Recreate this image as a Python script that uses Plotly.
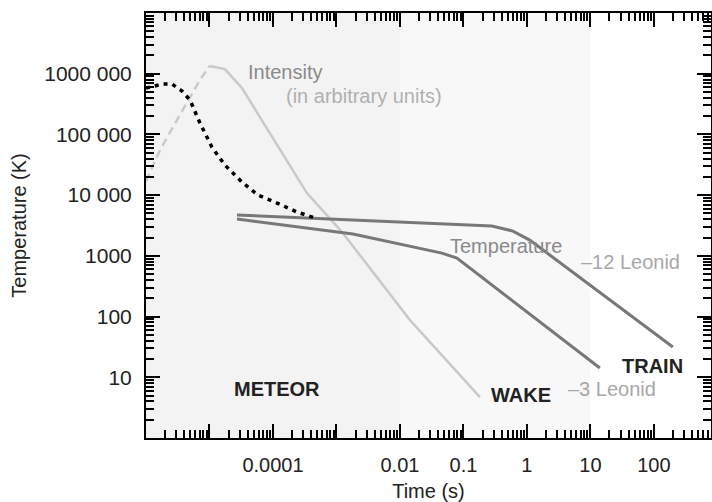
import math
import plotly.graph_objects as go

# ---------------- data ----------------
intensity_dashed_t = [1.0e-6, 1.66e-6, 2.66e-6, 4.43e-6, 7.08e-6, 1.0e-5]
intensity_dashed_v = [1.7e4, 5.5e4, 1.32e5, 3.3e5, 7.9e5, 1.34e6]

intensity_t = [1.0e-5, 1.75e-5, 3.25e-5, 8.05e-5, 3.43e-4, 1.26e-3, 0.0144, 0.182]
intensity_v = [1.34e6, 1.19e6, 5.8e5, 1.27e5, 1.08e4, 2380, 87.5, 4.7]

meteor_t = [1.0e-6, 1.85e-6, 2.57e-6, 3.69e-6, 4.93e-6, 7.08e-6, 1.09e-5,
            1.75e-5, 3.25e-5, 5.81e-5, 1.16e-4, 2.39e-4, 4.58e-4]
meteor_T = [5.8e5, 6.76e5, 6.76e5, 5.19e5, 3.69e5, 1.54e5, 6.2e4,
            3.13e4, 1.64e4, 1.0e4, 7410, 5270, 4200]

train_t = [2.71e-5, 0.281, 0.603, 1.11, 199]
train_T = [4700, 3100, 2560, 1820, 31.5]

wake_t = [2.71e-5, 1.82e-3, 0.0458, 0.079, 14.1]
wake_T = [4040, 2290, 1110, 920, 14.2]

x_tickvals = [1e-6, 1e-5, 1e-4, 1e-3, 1e-2, 1e-1, 1, 10, 100]
x_ticktext = ["", "", "0.0001", "", "0.01", "0.1", "1", "10", "100"]
y_tickvals = [1, 10, 100, 1000, 1e4, 1e5, 1e6, 1e7]
y_ticktext = ["", "10", "100", "1000", "10 000", "100 000", "1000 000", ""]

region_edges = [1e-6, 1e-2, 10]
region_colors = ["#f3f3f3", "#f8f8f8"]

X_RANGE = [-6, 2.9]
Y_RANGE = [0, 7]

FONT = "Liberation Sans, Arial, Helvetica, sans-serif"


def minor_vals(lo, hi):
    vals = []
    for e in range(lo, hi):
        for m in range(2, 10):
            vals.append(m * 10.0 ** e)
    return vals


def xfrac(v):
    return (math.log10(v) - X_RANGE[0]) / (X_RANGE[1] - X_RANGE[0])


fig = go.Figure()

fig.add_trace(go.Scatter(x=intensity_dashed_t, y=intensity_dashed_v, mode="lines",
                         line=dict(color="#c9c9c9", width=2.5, dash="8px,5px"),
                         showlegend=False, hoverinfo="skip"))
fig.add_trace(go.Scatter(x=intensity_t, y=intensity_v, mode="lines",
                         line=dict(color="#c9c9c9", width=2.5),
                         showlegend=False, hoverinfo="skip"))
fig.add_trace(go.Scatter(x=train_t, y=train_T, mode="lines",
                         line=dict(color="#787878", width=3),
                         showlegend=False, hoverinfo="skip"))
fig.add_trace(go.Scatter(x=wake_t, y=wake_T, mode="lines",
                         line=dict(color="#787878", width=3),
                         showlegend=False, hoverinfo="skip"))
fig.add_trace(go.Scatter(x=meteor_t, y=meteor_T, mode="lines",
                         line=dict(color="#000000", width=3.5, dash="4px,5px"),
                         showlegend=False, hoverinfo="skip"))

# background regions
for i, col in enumerate(region_colors):
    fig.add_shape(type="rect", xref="paper", yref="paper",
                  x0=xfrac(region_edges[i]), x1=xfrac(region_edges[i + 1]),
                  y0=0, y1=1, fillcolor=col, line=dict(width=0), layer="below")

annots = [
    ("Intensity", 0.246, 0.861, "#8a8a8a", False),
    ("(in arbitrary units)", 0.3867, 0.8047, "#b0b0b0", False),
    ("Temperature", 0.637, 0.4518, "#8a8a8a", False),
    ("–12 Leonid", 0.858, 0.414, "#a8a8a8", False),
    ("TRAIN", 0.897, 0.169, "#222222", True),
    ("WAKE", 0.664, 0.101, "#222222", True),
    ("–3 Leonid", 0.825, 0.115, "#a8a8a8", False),
    ("METEOR", 0.232, 0.115, "#222222", True),
]
for txt, x, y, col, bold in annots:
    fig.add_annotation(text=f"<b>{txt}</b>" if bold else txt,
                       xref="paper", yref="paper", x=x, y=y,
                       showarrow=False, xanchor="center", yanchor="middle",
                       font=dict(family=FONT, size=20, color=col))

axis_common = dict(
    showline=True, linecolor="black", linewidth=2, mirror="allticks",
    ticks="inside", ticklen=14, tickwidth=2, tickcolor="black",
    showgrid=False, zeroline=False, tickmode="array", automargin=False,
    ticklabelstandoff=8,
)

fig.update_xaxes(type="log", range=X_RANGE, tickvals=x_tickvals, ticktext=x_ticktext,
                 tickfont=dict(family=FONT, size=20, color="#222222"),
                 minor=dict(ticks="inside", ticklen=8, tickwidth=1.5, tickcolor="black",
                            tickmode="array", tickvals=minor_vals(-6, 3), showgrid=False),
                 title=dict(text="Time (s)", standoff=10,
                            font=dict(family=FONT, size=20, color="#222222")),
                 **axis_common)
fig.update_yaxes(type="log", range=Y_RANGE, tickvals=y_tickvals, ticktext=y_ticktext,
                 tickfont=dict(family=FONT, size=21, color="#222222"),
                 minor=dict(ticks="inside", ticklen=8, tickwidth=1.5, tickcolor="black",
                            tickmode="array", tickvals=minor_vals(0, 7), showgrid=False),
                 title=dict(text="Temperature (K)", standoff=12,
                            font=dict(family=FONT, size=20, color="#222222")),
                 **axis_common)

fig.update_layout(
    width=712, height=502,
    margin=dict(l=146, r=1, t=13, b=64, pad=0),
    paper_bgcolor="white", plot_bgcolor="white",
    showlegend=False,
)

fig.write_html("out.html", config={"displayModeBar": False},
               post_script="document.body.style.margin='0';document.body.style.overflow='hidden';")
